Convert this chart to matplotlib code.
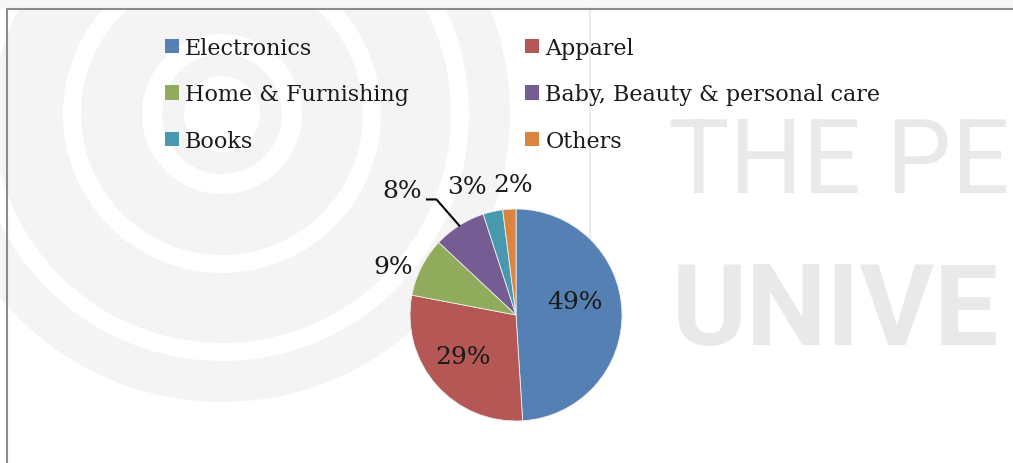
import numpy as np
import matplotlib.pyplot as plt
from matplotlib.patches import Circle, Wedge
from matplotlib.lines import Line2D

categories = ['Electronics', 'Apparel', 'Home & Furnishing',
              'Baby, Beauty & personal care', 'Books', 'Others']
shares = [49, 29, 9, 8, 3, 2]
colors = ['#5580b3', '#b55755', '#8fab5b', '#755c93', '#4899ae', '#d9853f']

# label positions (pie radius = 1)
label_pos = [(0.56, 0.13), (-0.5, -0.39), (-1.16, 0.46),
             (-1.07, 1.17), (-0.46, 1.21), (-0.03, 1.23)]

W, H = 1013, 464
cx, cy, R = 516, 316, 106   # pie centre / radius in pixels

plt.rcParams['font.family'] = ['DejaVu Serif']
fig = plt.figure(figsize=(W / 100, H / 100), dpi=100)

# watermark background
bg = fig.add_axes([0, 0, 1, 1])
bg.set_xlim(0, W)
bg.set_ylim(H, 0)
bg.axis('off')
bg.add_patch(Circle((222, 115), 288, fc='#f4f4f4', ec='none'))
for r, lw in [(238, 13), (150, 13)]:
    bg.add_patch(Circle((222, 115), r, fill=False, ec='white', lw=lw))
bg.add_patch(Circle((222, 115), 80, fc='white', ec='none'))
bg.add_patch(Wedge((222, 115), 60, 0, 360, width=22, fc='#f4f4f4', ec='none'))
bg.plot([590, 590], [10, 360], color='#ececec', lw=1.5)
bg.text(668, 193, 'THE PE', fontsize=74, color='#e9e9e9',
        family='Roboto', va='baseline', ha='left')
bg.text(672, 345, 'UNIVE', fontsize=82, color='#e9e9e9',
        family='Roboto', va='baseline', ha='left', fontweight='bold')

# chart frame
bg.add_patch(plt.Rectangle((0, 0), W, 10, fc='#f7f7f7', ec='none'))
bg.add_line(Line2D([7, 7, W], [H, 10, 10], color='#8c8c8c', lw=1.5))

ax = fig.add_axes([0, 0, 1, 1])
wedges, _ = ax.pie(shares, colors=colors, startangle=90, counterclock=False,
                   radius=1, center=(0, 0), frame=True,
                   wedgeprops=dict(linewidth=0.6, edgecolor='#eeeeee'))
ax.set_xlim(-cx / R, (W - cx) / R)
ax.set_ylim(-(H - cy) / R, cy / R)
ax.axis('off')

for s, (lx, ly) in zip(shares, label_pos):
    ax.text(lx, ly, f'{s}%', fontsize=18, ha='center', va='center', color='#1a1a1a')

# leader line for the Baby/Beauty slice
w = wedges[3]
mid = np.deg2rad((w.theta1 + w.theta2) / 2)
ex, ey = np.cos(mid), np.sin(mid)
ax.plot([-0.84, -0.75, ex], [1.09, 1.09, ey], color='black', lw=1.5)

# legend laid out row by row like the original
order = [0, 2, 4, 1, 3, 5]
leg = ax.legend([wedges[i] for i in order], [categories[i] for i in order],
                ncol=2, loc='upper left', bbox_to_anchor=(165 / W, 1 - 38 / H),
                frameon=False, borderpad=0, borderaxespad=0,
                fontsize=16, handlelength=0.63, handleheight=0.63,
                handletextpad=0.27, columnspacing=5.24, labelspacing=1.1)
for h in leg.legend_handles:
    h.set_edgecolor('none')
for t in leg.get_texts():
    t.set_color('#1a1a1a')

fig.savefig('out.png', dpi=100)
